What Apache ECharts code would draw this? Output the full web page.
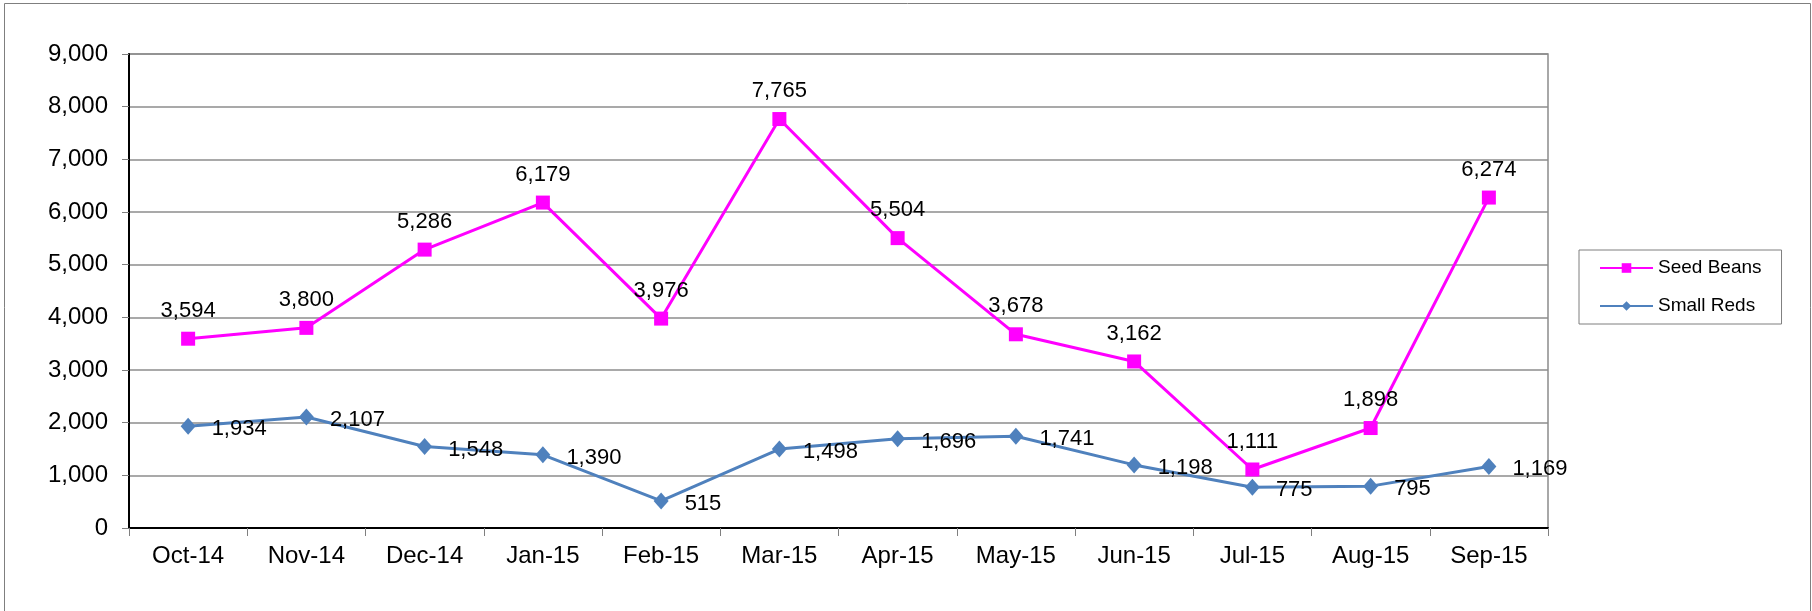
<!DOCTYPE html>
<html>
<head>
<meta charset="utf-8">
<script src="https://cdn.jsdelivr.net/npm/echarts@6/dist/echarts.min.js"></script>
<style>
html,body{margin:0;padding:0;background:#fff;}
#chart{width:1812px;height:611px;}
</style>
</head>
<body>
<div id="chart"></div>
<script>
const categories = ['Oct-14','Nov-14','Dec-14','Jan-15','Feb-15','Mar-15','Apr-15','May-15','Jun-15','Jul-15','Aug-15','Sep-15'];
const seedBeans = [3594, 3800, 5286, 6179, 3976, 7765, 5504, 3678, 3162, 1111, 1898, 6274];
const smallReds = [1934, 2107, 1548, 1390, 515, 1498, 1696, 1741, 1198, 775, 795, 1169];
const seriesNames = ['Seed Beans', 'Small Reds'];

const FONT = "'Liberation Sans', Arial, sans-serif";
const fmt = v => Number(v).toLocaleString('en-US');

const chart = echarts.init(document.getElementById('chart'), null, {renderer: 'canvas'});
chart.setOption({
  animation: false,
  backgroundColor: '#fff',
  textStyle: {fontFamily: FONT},
  graphic: [{
    type: 'rect',
    shape: {x: 4.5, y: 3.5, width: 1806, height: 640},
    style: {fill: 'none', stroke: '#7f7f7f', lineWidth: 1},
    silent: true, z: -1
  }],
  grid: {
    left: 129, top: 54, right: 264, bottom: 83,
    show: true, borderColor: '#8c8c8c', borderWidth: 1.5, backgroundColor: 'transparent'
  },
  legend: {
    orient: 'vertical',
    left: 1579, top: 250,
    padding: [8, 20],
    itemGap: 18,
    itemWidth: 53,
    itemHeight: 12,
    borderColor: '#7f7f7f',
    borderWidth: 1,
    borderRadius: 0,
    textStyle: {fontFamily: FONT, fontSize: 19, color: '#000', lineHeight: 20},
    data: seriesNames
  },
  xAxis: {
    type: 'category',
    data: categories,
    boundaryGap: true,
    axisLine: {lineStyle: {color: '#000', width: 2}},
    axisTick: {show: true, alignWithLabel: false, length: 8, lineStyle: {color: '#7f7f7f', width: 1}},
    axisLabel: {fontFamily: FONT, fontSize: 24, color: '#000', margin: 16, interval: 0},
    splitLine: {show: false}
  },
  yAxis: {
    type: 'value',
    min: 0, max: 9000, interval: 1000,
    axisLine: {show: true, lineStyle: {color: '#000', width: 2}},
    axisTick: {show: true, length: 7, lineStyle: {color: '#7f7f7f', width: 1}},
    axisLabel: {fontFamily: FONT, fontSize: 24, color: '#000', margin: 21, formatter: v => fmt(v)},
    splitLine: {show: true, lineStyle: {color: '#8c8c8c', width: 1.5}}
  },
  series: [
    {
      name: seriesNames[0],
      type: 'line',
      data: seedBeans,
      symbol: 'rect',
      symbolSize: 14,
      itemStyle: {color: '#FF00FF'},
      lineStyle: {color: '#FF00FF', width: 3},
      label: {show: true, position: 'top', distance: 10, fontFamily: FONT, fontSize: 22, color: '#000', formatter: p => fmt(p.value)},
      z: 3
    },
    {
      name: seriesNames[1],
      type: 'line',
      data: smallReds,
      symbol: 'diamond',
      symbolSize: [15, 17],
      itemStyle: {color: '#4F81BD'},
      lineStyle: {color: '#4F81BD', width: 3},
      label: {show: true, position: 'right', distance: 16, offset: [0, 3], fontFamily: FONT, fontSize: 22, color: '#000', formatter: p => fmt(p.value)},
      z: 2
    }
  ]
});
</script>
</body>
</html>
